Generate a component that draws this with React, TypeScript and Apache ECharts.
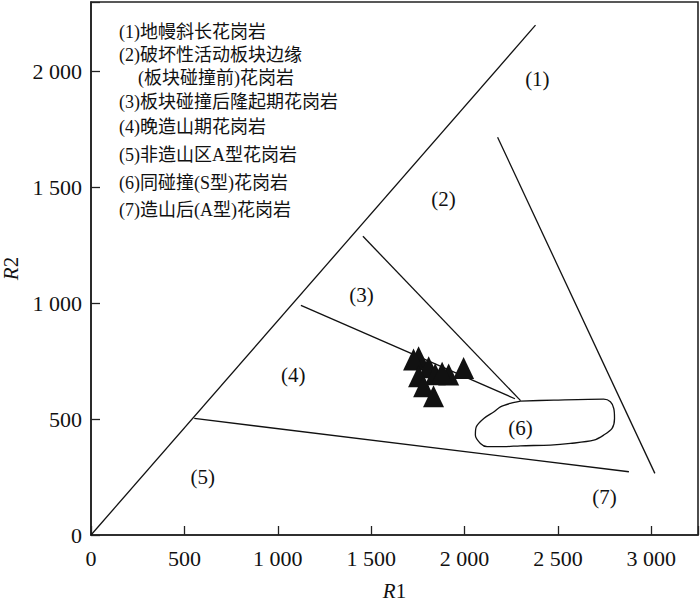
import React, { useEffect, useRef } from "react";
import * as echarts from "echarts";

// Boundary lines (R1, R2)
const boundary1 = [[0, 0], [2380, 2200]];
const boundary45 = [[553, 503], [2880, 273]];
const boundary12 = [[2177, 1716], [3019, 266]];
const boundary23 = [[1456, 1289], [2300, 580]];
const boundary34 = [[1124, 991], [2270, 588]];

// Field (6) outline
const field6 = [
  [2299, 578], [2478, 582], [2745, 586], [2781, 575], [2799, 546], [2803, 503],
  [2790, 460], [2745, 431], [2692, 409], [2567, 395], [2460, 388], [2299, 385],
  [2210, 381], [2121, 381], [2085, 395], [2058, 431], [2063, 467], [2103, 503],
  [2156, 531], [2192, 553], [2245, 568], [2299, 578],
];

// Samples
const sampleR1 = [1754, 1727, 1808, 1915, 1995, 1843, 1754, 1781, 1834, 1880];
const sampleR2 = [767, 757, 724, 693, 721, 694, 685, 642, 599, 700];

// Region labels
const regionNames = ["(1)", "(2)", "(3)", "(4)", "(5)", "(6)", "(7)"];
const regionR1 = [2390, 1887, 1448, 1083, 598, 2299, 2749];
const regionR2 = [1966, 1450, 1034, 690, 251, 460, 165];

// Legend text
const legendLines = [
  "(1)地幔斜长花岗岩",
  "(2)破坏性活动板块边缘",
  "(板块碰撞前)花岗岩",
  "(3)板块碰撞后隆起期花岗岩",
  "(4)晚造山期花岗岩",
  "(5)非造山区A型花岗岩",
  "(6)同碰撞(S型)花岗岩",
  "(7)造山后(A型)花岗岩",
];
const legendX = [119, 119, 138, 119, 119, 119, 119, 119];
const legendY = [32, 55, 78, 102, 127, 155, 183, 210];

const xTicks = { min: 0, max: 3250, interval: 500 };
const yTicks = { min: 0, max: 2300, interval: 500 };

const SERIF = '"Liberation Serif", "Times New Roman", serif';
const MIXED = '"Liberation Serif", "Noto Sans CJK SC", serif';

function fmt(v: number): string {
  if (v % 500 !== 0) return "";
  if (v >= 1000) {
    return Math.floor(v / 1000) + " " + String(v % 1000).padStart(3, "0");
  }
  return String(v);
}

export default function App() {
  const ref = useRef<HTMLDivElement>(null);
  useEffect(() => {
    document.body.style.margin = "0";
    if (!ref.current) return;
    const chart = echarts.init(ref.current, undefined, { renderer: "svg" });
    const lineStyle = { color: "#111", width: 1.3 };
    const mkLine = (d: number[][]) => ({
      type: "line",
      data: d,
      symbol: "none",
      lineStyle,
      silent: true,
      z: 3,
    });
    const axisCommon = {
      type: "value",
      splitLine: { show: false },
      axisLine: { show: true, onZero: false, lineStyle: { color: "#222", width: 1.6 } },
      axisTick: { show: true, inside: true, length: 9, lineStyle: { color: "#222", width: 1.3 } },
    };
    const nameRich = {
      i: { fontFamily: SERIF, fontSize: 21, fontStyle: "italic", color: "#111", lineHeight: 22 },
      n: { fontFamily: SERIF, fontSize: 21, color: "#111", lineHeight: 22 },
    };
    chart.setOption({
      animation: false,
      backgroundColor: "#fff",
      grid: {
        left: 91,
        right: 2,
        top: 2,
        bottom: 67,
        containLabel: false,
        outerBoundsMode: "none",
        show: true,
        borderColor: "#222",
        borderWidth: 1.6,
        backgroundColor: "transparent",
      },
      xAxis: {
        ...axisCommon,
        ...xTicks,
        axisLabel: {
          formatter: fmt,
          fontFamily: SERIF,
          fontSize: 22,
          color: "#111",
          margin: 12,
        },
        name: "{i|R}{n|1}",
        nameLocation: "middle",
        nameGap: 45,
        nameTextStyle: { rich: nameRich },
      },
      yAxis: {
        ...axisCommon,
        ...yTicks,
        axisLabel: {
          formatter: fmt,
          fontFamily: SERIF,
          fontSize: 22,
          color: "#111",
          margin: 9,
        },
        name: "{i|R}{n|2}",
        nameLocation: "middle",
        nameGap: 67,
        nameTextStyle: { rich: nameRich },
      },
      series: [
        mkLine(boundary1),
        mkLine(boundary45),
        mkLine(boundary12),
        mkLine(boundary23),
        mkLine(boundary34),
        {
          type: "line",
          data: field6,
          symbol: "none",
          smooth: 0.3,
          lineStyle,
          silent: true,
          z: 3,
        },
        {
          type: "scatter",
          data: sampleR1.map((x, i) => [x, sampleR2[i]]),
          symbol: "triangle",
          symbolSize: [21, 22],
          itemStyle: { color: "#111", opacity: 1 },
          z: 5,
        },
        {
          type: "scatter",
          data: regionNames.map((n, i) => ({ name: n, value: [regionR1[i], regionR2[i]] })),
          symbolSize: 1,
          itemStyle: { color: "rgba(0,0,0,0)", opacity: 1 },
          label: {
            show: true,
            position: "inside",
            formatter: "{b}",
            fontFamily: SERIF,
            fontSize: 21,
            color: "#111",
            opacity: 1,
          },
          silent: true,
          z: 4,
        },
      ],
      graphic: legendLines.map((t, i) => ({
        type: "text",
        x: legendX[i],
        y: legendY[i],
        style: {
          text: t,
          fontFamily: MIXED,
          fontSize: 18,
          fill: "#111",
          verticalAlign: "middle",
          align: "left",
        },
      })),
    });
    return () => chart.dispose();
  }, []);
  return <div ref={ref} style={{ width: 700, height: 602 }} />;
}
